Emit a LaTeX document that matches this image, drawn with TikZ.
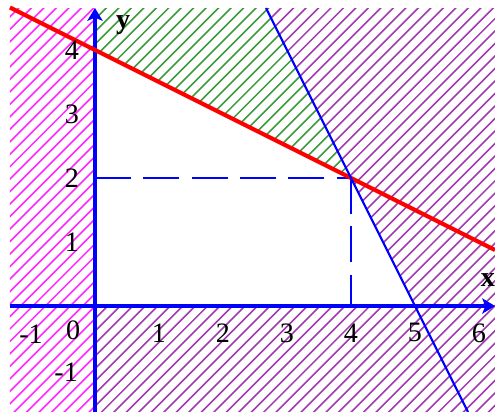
\documentclass[tikz,border=0pt]{standalone}
\usepackage{fontspec}
\setmainfont{Liberation Serif}
\usetikzlibrary{arrows.meta}
\definecolor{hmag}{RGB}{255,40,255}
\definecolor{hpur}{RGB}{160,60,175}
\definecolor{hgrn}{RGB}{60,155,60}
\definecolor{axblue}{RGB}{0,0,255}
\definecolor{redl}{RGB}{255,0,0}
\begin{document}
\begin{tikzpicture}[x=1cm,y=1cm,
  hatchline/.style={line width=0.7pt},
  axisline/.style={axblue, line width=1.5pt, -{Stealth[length=2mm,width=2.4mm,inset=0.5mm]}},
  lbl/.style={font=\fontsize{12.5}{14}\selectfont, inner sep=0pt},
  varlbl/.style={font=\fontsize{12.5}{14}\selectfont\bfseries, inner sep=0pt},
  guide/.style={axblue, line width=1.1pt, dash pattern=on 16pt off 5.5pt},
  redline/.style={redl, line width=1.8pt},
  blueline/.style={axblue, line width=0.9pt}
]
\useasboundingbox (-1.484,-1.656) rectangle (6.25,4.781);
% hatching
\begin{scope}
  \clip (-1.328,-1.656) rectangle (0,4.656);
  \foreach \i in {0,...,76} \draw[hmag,hatchline] (-2,{-10+\i*0.195}) -- ++(9,9);
\end{scope}
\begin{scope}
  \clip (0,4) -- (4,2) -- (2.672,4.656) -- (0,4.656) -- cycle;
  \foreach \i in {0,...,76} \draw[hgrn,hatchline] (-2,{-10+\i*0.195}) -- ++(9,9);
\end{scope}
\begin{scope}
  \clip (0,0) -- (5,0) -- (2.672,4.656) -- (6.25,4.656) -- (6.25,-1.656) -- (0,-1.656) -- cycle;
  \foreach \i in {0,...,76} \draw[hpur,hatchline] (-2,{-10+\i*0.195}) -- ++(9,9);
\end{scope}
% key points
\coordinate (O) at (0,0);
\coordinate (Y2) at (0,2);
\coordinate (P) at (4,2);
\coordinate (X4) at (4,0);
\coordinate (R1) at (-1.328,4.664);
\coordinate (R2) at (6.25,0.875);
\coordinate (B1) at (2.672,4.656);
\coordinate (B2) at (5.828,-1.656);
\coordinate (XL) at (-1.328,0);
\coordinate (XR) at (6.25,0);
\coordinate (YB) at (0,-1.656);
\coordinate (YT) at (0,4.656);
% guides
\draw[guide] (Y2) -- (P);
\draw[guide] (P) -- (X4);
% axes
\draw[hmag, line width=2.1pt] (YB) -- (0,4.45);
\draw[axisline] (XL) -- (XR);
\draw[axisline] (YB) -- (YT);
% lines
\draw[redline] (R1) -- (R2);
\draw[blueline] (B1) -- (B2);
% labels
\node[varlbl] (lx) at (6.14,0.41) {x};
\node[varlbl] (ly) at (0.44,4.39) {y};
\node[lbl] (l0) at (-0.34,-0.38) {0};
\node[lbl] (xm1) at (-1.0,-0.44) {-1};
\node[lbl] (ym1) at (-0.45,-1.03) {-1};
\foreach \v in {1,...,6} \node[lbl] (xl\v) at (\v,-0.42) {\v};
\foreach \v in {1,...,4} \node[lbl] (yl\v) at (-0.36,\v) {\v};
\end{tikzpicture}
\end{document}
